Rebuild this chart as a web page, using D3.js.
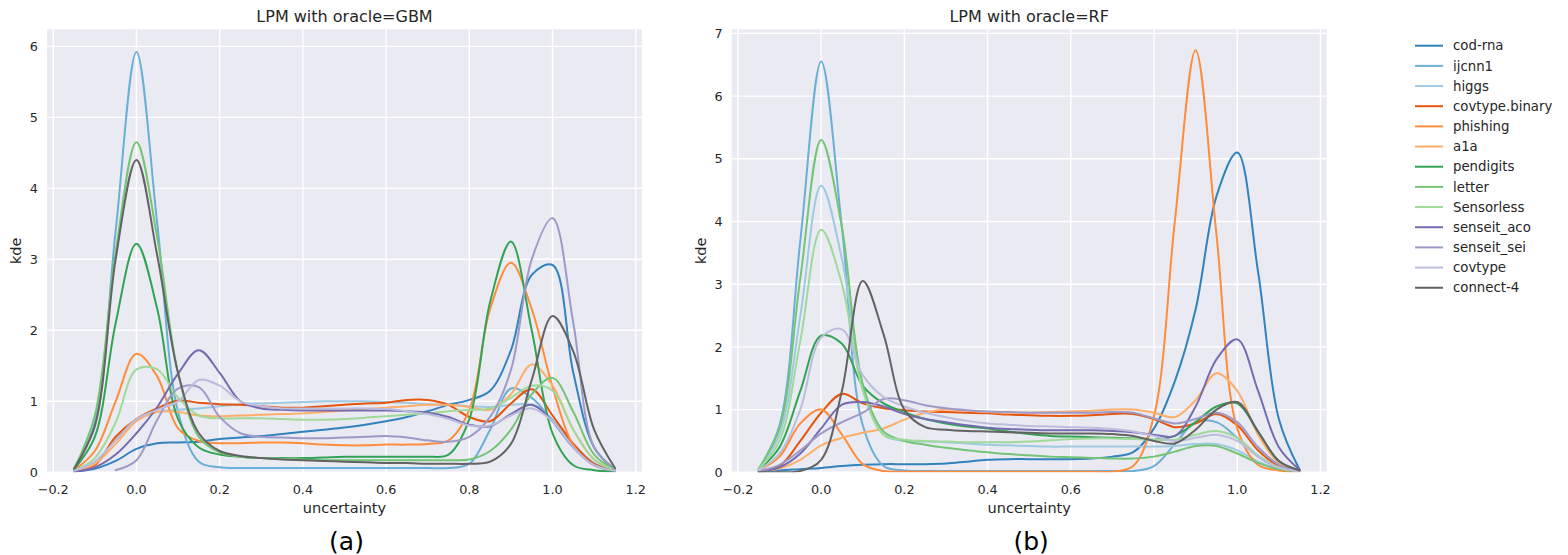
<!DOCTYPE html>
<html lang="en">
<head>
    <meta charset="UTF-8">
    <title>LPM uncertainty kde</title>
    <script src="https://d3js.org/d3.v7.min.js"></script>
    <style>
        body { margin: 0; background: #fff; }
        svg { font-family: "DejaVu Sans", sans-serif; }
        .tick-label { font-size: 12.8px; fill: #262626; }
        .axis-label { font-size: 14.5px; fill: #262626; }
        .title { font-size: 16px; fill: #262626; }
        .legend text { font-size: 13.3px; fill: #262626; }
        .panel-tag { font-size: 25px; fill: #000; }
    </style>
</head>
<body>
<div id="chart"></div>
<script>
// shared x grid of the kde curves
const uncertainty = [-0.15, -0.1, -0.05, 0, 0.05, 0.1, 0.15, 0.2, 0.25, 0.3, 0.35, 0.4, 0.45, 0.5,
    0.55, 0.6, 0.65, 0.7, 0.75, 0.8, 0.85, 0.9, 0.95, 1.0, 1.05, 1.1, 1.15];

const datasets = ["cod-rna", "ijcnn1", "higgs", "covtype.binary", "phishing", "a1a", "pendigits",
    "letter", "Sensorless", "senseit_aco", "senseit_sei", "covtype", "connect-4"];
const colors = ["#3182bd", "#6baed6", "#9ecae1", "#e6550d", "#fd8d3c", "#fdae6b", "#31a354",
    "#74c476", "#a1d99b", "#756bb1", "#9e9ac8", "#bcbddc", "#636363"];

// oracle = GBM
const gbmCodRna = [0.01, 0.05, 0.16, 0.33, 0.41, 0.42, 0.43, 0.47, 0.49, 0.51, 0.54, 0.57, 0.6, 0.63, 0.67, 0.72, 0.78, 0.86, 0.95, 1.02, 1.15, 1.72, 2.78, 2.92, 1.4, 0.35, 0.04];
const gbmIjcnn1 = [0.04, 0.7, 3.4, 5.92, 3.5, 0.85, 0.15, 0.07, 0.06, 0.06, 0.06, 0.06, 0.06, 0.06, 0.06, 0.06, 0.06, 0.06, 0.06, 0.12, 0.6, 1.18, 1.05, 0.72, 0.35, 0.12, 0.03];
const gbmHiggs = [0.03, 0.15, 0.45, 0.75, 0.85, 0.88, 0.9, 0.93, 0.96, 0.97, 0.98, 0.99, 1.0, 1.0, 1.0, 0.99, 0.98, 0.96, 0.95, 0.93, 0.92, 0.95, 0.95, 0.75, 0.4, 0.13, 0.03];
const gbmCovtypeBinary = [0.02, 0.1, 0.5, 0.75, 0.9, 1.01, 0.98, 0.96, 0.95, 0.93, 0.91, 0.91, 0.93, 0.95, 0.97, 0.98, 1.02, 1.02, 0.95, 0.78, 0.72, 0.97, 1.17, 0.8, 0.4, 0.12, 0.03];
const gbmPhishing = [0.03, 0.3, 1.0, 1.67, 1.35, 0.62, 0.44, 0.41, 0.41, 0.42, 0.42, 0.41, 0.39, 0.38, 0.38, 0.39, 0.39, 0.4, 0.45, 0.88, 2.3, 2.95, 2.3, 1.2, 0.38, 0.1, 0.03];
const gbmA1a = [0.02, 0.12, 0.4, 0.72, 0.85, 0.85, 0.8, 0.79, 0.8, 0.81, 0.82, 0.83, 0.85, 0.87, 0.89, 0.91, 0.93, 0.95, 0.95, 0.92, 0.88, 1.1, 1.52, 1.22, 0.6, 0.18, 0.04];
const gbmPendigits = [0.04, 0.5, 2.1, 3.22, 2.3, 0.75, 0.35, 0.25, 0.22, 0.2, 0.2, 0.2, 0.21, 0.22, 0.22, 0.22, 0.22, 0.22, 0.25, 0.75, 2.4, 3.25, 2.0, 0.55, 0.1, 0.03, 0.01];
const gbmLetter = [0.05, 0.8, 3.1, 4.65, 3.3, 1.4, 0.5, 0.28, 0.22, 0.2, 0.19, 0.18, 0.17, 0.17, 0.17, 0.17, 0.17, 0.17, 0.17, 0.18, 0.3, 0.6, 1.1, 1.33, 0.85, 0.25, 0.04];
const gbmSensorless = [0.02, 0.2, 0.7, 1.45, 1.45, 1.05, 0.8, 0.76, 0.76, 0.76, 0.75, 0.74, 0.74, 0.75, 0.77, 0.79, 0.81, 0.83, 0.86, 0.88, 0.9, 1.05, 1.22, 1.15, 0.6, 0.18, 0.03];
const gbmSenseitAco = [0.01, 0.07, 0.25, 0.55, 0.92, 1.39, 1.72, 1.4, 1.0, 0.9, 0.88, 0.87, 0.87, 0.87, 0.87, 0.87, 0.86, 0.84, 0.78, 0.67, 0.65, 0.82, 0.95, 0.72, 0.35, 0.1, 0.02];
const gbmSenseitSei = [null, null, 0.03, 0.17, 0.74, 1.18, 1.2, 0.78, 0.55, 0.5, 0.49, 0.48, 0.48, 0.49, 0.5, 0.51, 0.49, 0.45, 0.43, 0.5, 0.78, 1.44, 3.0, 3.58, 2.1, 0.35, 0.05];
const gbmCovtype = [0.02, 0.15, 0.45, 0.75, 0.88, 1.0, 1.3, 1.22, 1.0, 0.93, 0.9, 0.9, 0.9, 0.9, 0.9, 0.89, 0.86, 0.82, 0.75, 0.66, 0.66, 0.8, 0.9, 0.72, 0.35, 0.1, 0.02];
const gbmConnect4 = [0.05, 0.65, 3.0, 4.4, 3.05, 1.4, 0.55, 0.3, 0.23, 0.2, 0.18, 0.17, 0.16, 0.15, 0.14, 0.13, 0.13, 0.12, 0.12, 0.12, 0.15, 0.4, 1.3, 2.2, 1.7, 0.6, 0.06];

// oracle = RF
const rfCodRna = [0.02, 0.03, 0.05, 0.07, 0.1, 0.12, 0.13, 0.13, 0.13, 0.14, 0.17, 0.2, 0.21, 0.21, 0.21, 0.21, 0.22, 0.25, 0.32, 0.7, 1.45, 2.6, 4.4, 5.1, 3.2, 0.85, 0.04];
const rfIjcnn1 = [0.05, 0.75, 3.7, 6.55, 3.9, 0.75, 0.1, 0.03, 0.02, 0.02, 0.02, 0.02, 0.02, 0.02, 0.02, 0.02, 0.02, 0.02, 0.02, 0.1, 0.45, 0.8, 0.8, 0.55, 0.25, 0.07, 0.02];
const rfHiggs = [0.05, 0.6, 2.5, 4.57, 3.4, 1.4, 0.6, 0.5, 0.49, 0.48, 0.46, 0.44, 0.43, 0.42, 0.41, 0.41, 0.41, 0.41, 0.41, 0.41, 0.42, 0.45, 0.45, 0.35, 0.17, 0.05, 0.02];
const rfCovtypeBinary = [0.02, 0.1, 0.5, 0.95, 1.25, 1.1, 1.02, 0.99, 0.97, 0.96, 0.95, 0.94, 0.92, 0.91, 0.9, 0.9, 0.91, 0.93, 0.93, 0.85, 0.72, 0.78, 0.93, 0.75, 0.35, 0.1, 0.02];
const rfPhishing = [0.03, 0.25, 0.78, 1.0, 0.6, 0.13, 0.02, 0.01, 0.01, 0.01, 0.01, 0.01, 0.01, 0.01, 0.01, 0.01, 0.01, 0.01, 0.1, 0.9, 4.0, 6.73, 3.8, 0.7, 0.12, 0.03, 0.01];
const rfA1a = [0.01, 0.06, 0.2, 0.43, 0.55, 0.63, 0.7, 0.84, 0.95, 1.0, 0.98, 0.96, 0.95, 0.95, 0.96, 0.97, 0.98, 1.0, 1.0, 0.95, 0.88, 1.15, 1.58, 1.3, 0.6, 0.15, 0.02];
const rfPendigits = [0.04, 0.4, 1.3, 2.18, 2.05, 1.38, 1.1, 0.96, 0.85, 0.78, 0.73, 0.7, 0.65, 0.61, 0.58, 0.57, 0.56, 0.55, 0.54, 0.52, 0.58, 0.8, 1.05, 1.1, 0.65, 0.18, 0.03];
const rfLetter = [0.06, 0.7, 3.1, 5.3, 3.9, 1.4, 0.65, 0.5, 0.44, 0.39, 0.35, 0.32, 0.29, 0.27, 0.25, 0.24, 0.23, 0.22, 0.22, 0.25, 0.33, 0.42, 0.42, 0.3, 0.15, 0.05, 0.02];
const rfSensorless = [0.05, 0.5, 2.1, 3.87, 3.0, 1.3, 0.6, 0.52, 0.5, 0.49, 0.48, 0.48, 0.48, 0.49, 0.51, 0.53, 0.54, 0.54, 0.53, 0.52, 0.52, 0.6, 0.66, 0.55, 0.27, 0.08, 0.02];
const rfSenseitAco = [0.01, 0.08, 0.3, 0.7, 1.08, 1.12, 1.05, 0.93, 0.85, 0.8, 0.75, 0.71, 0.69, 0.68, 0.67, 0.67, 0.67, 0.66, 0.64, 0.6, 0.58, 1.05, 1.8, 2.12, 1.3, 0.4, 0.04];
const rfSenseitSei = [0.02, 0.12, 0.35, 0.62, 0.8, 0.95, 1.17, 1.15, 1.07, 1.02, 0.99, 0.97, 0.96, 0.95, 0.95, 0.95, 0.95, 0.96, 0.95, 0.86, 0.78, 0.85, 0.95, 0.8, 0.4, 0.12, 0.02];
const rfCovtype = [0.03, 0.3, 1.0, 2.15, 2.28, 1.55, 1.2, 1.05, 0.95, 0.88, 0.82, 0.78, 0.76, 0.74, 0.73, 0.72, 0.71, 0.69, 0.65, 0.58, 0.5, 0.55, 0.6, 0.5, 0.25, 0.07, 0.02];
const rfConnect4 = [0.0, 0.0, 0.02, 0.2, 1.3, 3.05, 2.2, 1.0, 0.72, 0.68, 0.66, 0.65, 0.64, 0.63, 0.62, 0.62, 0.62, 0.61, 0.58, 0.5, 0.46, 0.68, 1.0, 1.12, 0.65, 0.18, 0.03];

const gbmSeries = [gbmCodRna, gbmIjcnn1, gbmHiggs, gbmCovtypeBinary, gbmPhishing, gbmA1a, gbmPendigits,
    gbmLetter, gbmSensorless, gbmSenseitAco, gbmSenseitSei, gbmCovtype, gbmConnect4];
const rfSeries = [rfCodRna, rfIjcnn1, rfHiggs, rfCovtypeBinary, rfPhishing, rfA1a, rfPendigits,
    rfLetter, rfSensorless, rfSenseitAco, rfSenseitSei, rfCovtype, rfConnect4];

const xTicks = [-0.2, 0.0, 0.2, 0.4, 0.6, 0.8, 1.0, 1.2];

const W = 1568, H = 555;
const svg = d3.select("#chart").append("svg")
    .attr("width", W)
    .attr("height", H);

const panels = [
    { title: "LPM with oracle=GBM", tag: "(a)", left: 47, right: 642, ymax: 6.24, yTicks: d3.range(0, 7), series: gbmSeries },
    { title: "LPM with oracle=RF", tag: "(b)", left: 731.7, right: 1326.7, ymax: 7.065, yTicks: d3.range(0, 8), series: rfSeries }
];
const plotTop = 29.3, plotBottom = 472.3;

panels.forEach((p, pi) => {
    const x = d3.scaleLinear().domain([-0.215, 1.215]).range([p.left, p.right]);
    const y = d3.scaleLinear().domain([0, p.ymax]).range([plotBottom, plotTop]);
    const g = svg.append("g");

    g.append("rect")
        .attr("x", p.left).attr("y", plotTop)
        .attr("width", p.right - p.left).attr("height", plotBottom - plotTop)
        .attr("fill", "#eaeaf2");

    // grid
    g.append("g").selectAll("line").data(xTicks).join("line")
        .attr("x1", d => x(d)).attr("x2", d => x(d))
        .attr("y1", plotTop).attr("y2", plotBottom)
        .attr("stroke", "#fff").attr("stroke-width", 1.4);
    g.append("g").selectAll("line").data(p.yTicks).join("line")
        .attr("x1", p.left).attr("x2", p.right)
        .attr("y1", d => y(d)).attr("y2", d => y(d))
        .attr("stroke", "#fff").attr("stroke-width", 1.4);

    // tick labels
    g.append("g").selectAll("text").data(xTicks).join("text")
        .attr("class", "tick-label")
        .attr("x", d => x(d)).attr("y", plotBottom + 22)
        .attr("text-anchor", "middle")
        .text(d => d3.format(".1f")(d).replace("-", "\u2212"));
    g.append("g").selectAll("text").data(p.yTicks).join("text")
        .attr("class", "tick-label")
        .attr("x", p.left - 9).attr("y", d => y(d))
        .attr("dy", "0.36em")
        .attr("text-anchor", "end")
        .text(d => d);

    // labels
    g.append("text").attr("class", "axis-label")
        .attr("x", (p.left + p.right) / 2).attr("y", plotBottom + 41)
        .attr("text-anchor", "middle").text("uncertainty");
    g.append("text").attr("class", "axis-label")
        .attr("transform", `translate(${p.left - 26},${(plotTop + plotBottom) / 2}) rotate(-90)`)
        .attr("text-anchor", "middle").text("kde");
    g.append("text").attr("class", "title")
        .attr("x", (p.left + p.right) / 2).attr("y", 22)
        .attr("text-anchor", "middle").text(p.title);
    g.append("text").attr("class", "panel-tag")
        .attr("x", (p.left + p.right) / 2 + 2).attr("y", 550)
        .attr("text-anchor", "middle").text(p.tag);

    // curves
    const clipId = "clip" + pi;
    svg.append("clipPath").attr("id", clipId)
        .append("rect")
        .attr("x", p.left).attr("y", plotTop)
        .attr("width", p.right - p.left).attr("height", plotBottom - plotTop);

    const line = d3.line()
        .defined(d => d[1] != null)
        .x(d => x(d[0]))
        .y(d => y(d[1]))
        .curve(d3.curveCatmullRom.alpha(0.5));

    g.append("g").attr("clip-path", `url(#${clipId})`)
        .selectAll("path").data(p.series).join("path")
        .attr("d", vals => line(vals.map((v, i) => [uncertainty[i], v])))
        .attr("fill", "none")
        .attr("stroke", (d, i) => colors[i])
        .attr("stroke-width", 2)
        .attr("stroke-linejoin", "round")
        .attr("stroke-linecap", "round");
});

// legend
const legend = svg.append("g").attr("class", "legend");
datasets.forEach((name, i) => {
    const ly = 45.7 + i * 20.17;
    legend.append("line")
        .attr("x1", 1415).attr("x2", 1443)
        .attr("y1", ly).attr("y2", ly)
        .attr("stroke", colors[i]).attr("stroke-width", 2);
    legend.append("text")
        .attr("x", 1453).attr("y", ly).attr("dy", "0.35em")
        .text(name);
});
</script>
</body>
</html>
